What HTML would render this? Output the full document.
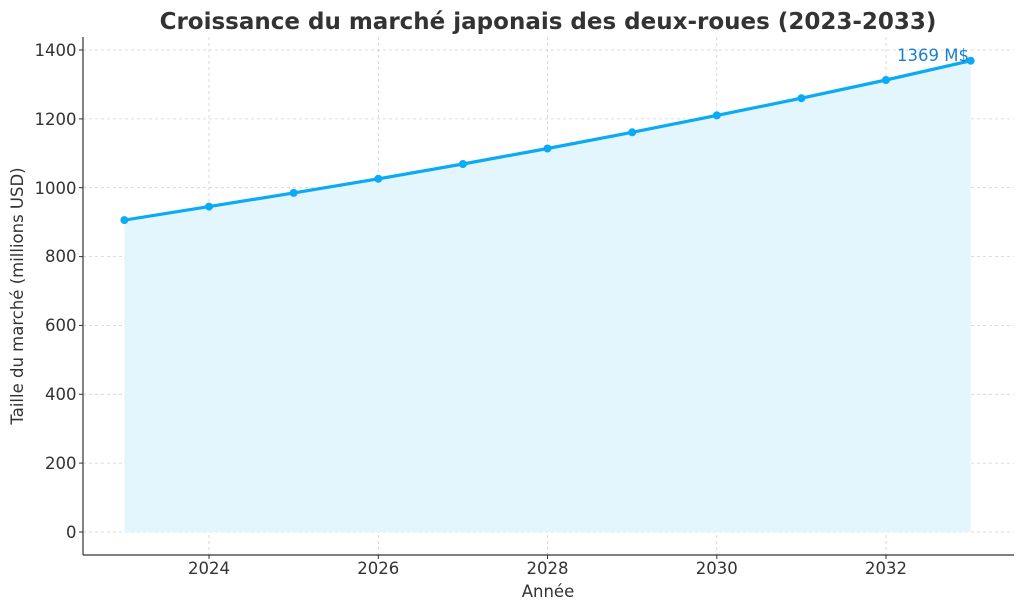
<!DOCTYPE html>
<html><head><meta charset="utf-8"><style>
body{margin:0;background:#fff;}
svg text{font-family:"DejaVu Sans","Liberation Sans",sans-serif;}
</style></head><body>
<svg width="1024" height="611" viewBox="0 0 1024 611" xmlns="http://www.w3.org/2000/svg">
<rect width="1024" height="611" fill="#fff"/>
<text x="548" y="29" text-anchor="middle" font-size="23" font-weight="bold" fill="#333">Croissance du marché japonais des deux-roues (2023-2033)</text>
<g stroke="#d0d0d0" stroke-width="0.8" stroke-dasharray="3,3">
<line x1="83" x2="1014" y1="532" y2="532"/><line x1="83" x2="1014" y1="463.1" y2="463.1"/>
<line x1="83" x2="1014" y1="394.3" y2="394.3"/><line x1="83" x2="1014" y1="325.4" y2="325.4"/>
<line x1="83" x2="1014" y1="256.6" y2="256.6"/><line x1="83" x2="1014" y1="187.7" y2="187.7"/>
<line x1="83" x2="1014" y1="118.9" y2="118.9"/><line x1="83" x2="1014" y1="50" y2="50"/>
<line y1="37" y2="555" x1="209" x2="209"/><line y1="37" y2="555" x1="378.3" x2="378.3"/>
<line y1="37" y2="555" x1="547.5" x2="547.5"/><line y1="37" y2="555" x1="716.8" x2="716.8"/>
<line y1="37" y2="555" x1="886" x2="886"/>
</g>
<polygon fill="#e3f5fd" points="124.4,532 124.4,220.1 209,206.6 293.7,192.9 378.3,178.8 462.9,164 547.5,148.5 632.2,132.3 716.8,115.4 801.4,98.2 886,80 970.7,60.7 970.7,532"/>
<polyline fill="none" stroke="#0aaaf5" stroke-width="3.2" points="124.4,220.1 209,206.6 293.7,192.9 378.3,178.8 462.9,164 547.5,148.5 632.2,132.3 716.8,115.4 801.4,98.2 886,80 970.7,60.7"/>
<g fill="#0aaaf5">
<circle cx="124.4" cy="220.1" r="4"/><circle cx="209" cy="206.6" r="4"/><circle cx="293.7" cy="192.9" r="4"/>
<circle cx="378.3" cy="178.8" r="4"/><circle cx="462.9" cy="164" r="4"/><circle cx="547.5" cy="148.5" r="4"/>
<circle cx="632.2" cy="132.3" r="4"/><circle cx="716.8" cy="115.4" r="4"/><circle cx="801.4" cy="98.2" r="4"/>
<circle cx="886" cy="80" r="4"/><circle cx="970.7" cy="60.7" r="4"/>
</g>
<text x="897" y="61" font-size="16.5" fill="#1a7fd0">1369 M$</text>
<line x1="83" y1="37" x2="83" y2="555" stroke="#333" stroke-width="1.2"/>
<line x1="83" y1="555" x2="1014" y2="555" stroke="#333" stroke-width="1.2"/>
<g stroke="#333" stroke-width="1">
<line x1="79" x2="83" y1="532" y2="532"/><line x1="79" x2="83" y1="463.1" y2="463.1"/><line x1="79" x2="83" y1="394.3" y2="394.3"/>
<line x1="79" x2="83" y1="325.4" y2="325.4"/><line x1="79" x2="83" y1="256.6" y2="256.6"/><line x1="79" x2="83" y1="187.7" y2="187.7"/>
<line x1="79" x2="83" y1="118.9" y2="118.9"/><line x1="79" x2="83" y1="50" y2="50"/>
<line y1="555" y2="559" x1="209" x2="209"/><line y1="555" y2="559" x1="378.3" x2="378.3"/><line y1="555" y2="559" x1="547.5" x2="547.5"/>
<line y1="555" y2="559" x1="716.8" x2="716.8"/><line y1="555" y2="559" x1="886" x2="886"/>
</g>
<g font-size="16.5" fill="#333" text-anchor="end">
<text x="76.5" y="538">0</text><text x="76.5" y="469">200</text><text x="76.5" y="400">400</text><text x="76.5" y="331">600</text>
<text x="76.5" y="262">800</text><text x="76.5" y="194">1000</text><text x="76.5" y="125">1200</text><text x="76.5" y="56">1400</text>
</g>
<g font-size="16.5" fill="#333" text-anchor="middle">
<text x="209" y="574">2024</text><text x="378.3" y="574">2026</text><text x="547.5" y="574">2028</text>
<text x="716.8" y="574">2030</text><text x="886" y="574">2032</text>
<text x="548" y="597">Année</text>
</g>
<text transform="translate(23,296) rotate(-90)" font-size="16.5" fill="#333" text-anchor="middle">Taille du marché (millions USD)</text>
</svg>
</body></html>
